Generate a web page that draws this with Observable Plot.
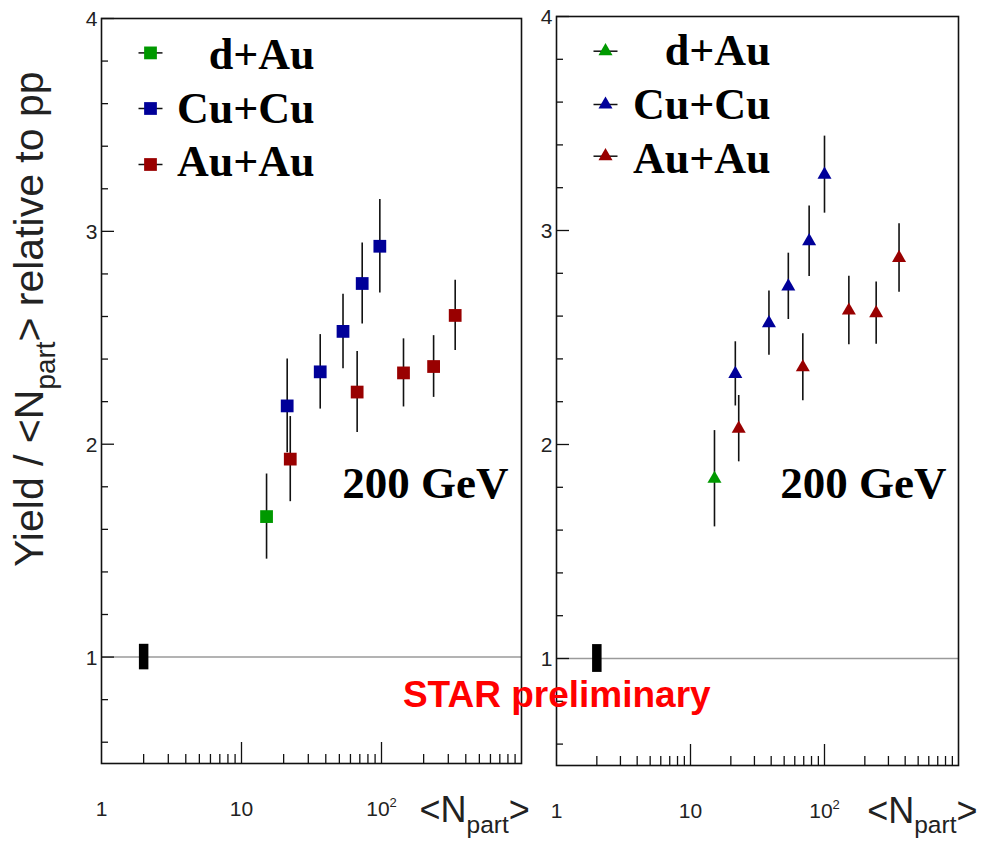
<!DOCTYPE html>
<html>
<head>
<meta charset="utf-8">
<script src="https://cdn.jsdelivr.net/npm/d3@7"></script>
<script src="https://cdn.jsdelivr.net/npm/@observablehq/plot@0.6"></script>
<style>
  html, body { margin: 0; padding: 0; background: #fff; }
  #chart { position: relative; width: 985px; height: 843px; overflow: hidden; background: #fff; }
  #chart svg { position: absolute; top: 0; }
</style>
</head>
<body>
<div id="chart"></div>
<script>
// ---------- axis ticks and labels ----------
const xTickValues = [1, 10, 100];
const xTickLabels = ["1", "10", "10^{2}"];
const xMajorTicks = [10, 100];
const xMinorTicks = [2, 3, 4, 5, 6, 7, 8, 9, 20, 30, 40, 50, 60, 70, 80, 90, 200, 300, 400, 500, 600, 700, 800, 900];
const yTickValues = [1, 2, 3, 4];
const yMinorTicks = [0.6, 0.8, 1.2, 1.4, 1.6, 1.8, 2.2, 2.4, 2.6, 2.8, 3.2, 3.4, 3.6, 3.8];

// ---------- series ----------
const systems = ["d+Au", "Cu+Cu", "Au+Au"];
const systemColors = ["#009900", "#000099", "#990000"];

// left panel (squares)
const leftDAuNpart = [15.1];
const leftDAuRatio = [1.66];
const leftDAuErr = [0.2];
const leftCuNpart = [21.2, 36.5, 53.1, 72.8, 97.3];
const leftCuRatio = [2.18, 2.34, 2.53, 2.755, 2.93];
const leftCuErr = [0.22, 0.175, 0.175, 0.19, 0.22];
const leftAuNpart = [22.3, 67, 143.6, 235.6, 336];
const leftAuRatio = [1.93, 2.245, 2.335, 2.365, 2.605];
const leftAuErr = [0.2, 0.19, 0.16, 0.145, 0.165];
const leftPPNpart = [2];
const leftPPRatio = [1];
const leftPPErr = [0.06];

// right panel (triangles)
const rightDAuNpart = [15.1];
const rightDAuRatio = [1.84];
const rightDAuErr = [0.225];
const rightCuNpart = [21.6, 38.5, 53.7, 76.8, 100];
const rightCuRatio = [2.33, 2.567, 2.739, 2.95, 3.261];
const rightCuErr = [0.15, 0.15, 0.155, 0.165, 0.18];
const rightAuNpart = [22.9, 68.9, 152, 243, 360];
const rightAuRatio = [2.074, 2.361, 2.626, 2.614, 2.872];
const rightAuErr = [0.155, 0.157, 0.16, 0.145, 0.16];
const rightPPNpart = [2];
const rightPPRatio = [1];
const rightPPErr = [0.065];

const energyLabel = "200 GeV";
const xTitle = "<N_{part}>";
const yTitle = "Yield / <N_{part}> relative to pp";
const watermark = "STAR preliminary";

function rows(xs, ys, es) {
  return xs.map((x, i) => ({x, y: ys[i], e: es[i]}));
}

const legendLine = {
  draw(ctx) { ctx.moveTo(-12, 0); ctx.lineTo(12, 0); }
};

const SANS = "'Liberation Sans', Arial, sans-serif";
const SERIF = "'Liberation Serif', 'Times New Roman', serif";

function makePanel(cfg) {
  const marks = [];
  marks.push(Plot.ruleY([1], {stroke: "#9a9a9a", strokeWidth: 1.6}));
  // y ticks (pointing inward)
  marks.push(Plot.axisY(yMinorTicks, {tickSize: 7, dx: 7, fill: "none", label: null, stroke: "#111", strokeWidth: 1.3}));
  marks.push(Plot.axisY(yTickValues, {tickSize: 13, dx: 13, fill: "none", label: null, stroke: "#111", strokeWidth: 1.3}));
  marks.push(Plot.text(yTickValues, {y: (d) => d, text: (d) => String(d), frameAnchor: "left", dx: -4, dy: 1, textAnchor: "end", lineAnchor: "middle", fontSize: 21, fontFamily: SANS, fill: "#222"}));
  // x ticks (pointing up)
  marks.push(Plot.axisX(xMinorTicks, {tickSize: 9, dy: -9, fill: "none", label: null, stroke: "#111", strokeWidth: 1.3}));
  marks.push(Plot.axisX(xMajorTicks, {tickSize: 21, dy: -21, fill: "none", label: null, stroke: "#111", strokeWidth: 1.3}));
  marks.push(Plot.text(xTickValues, {x: (d) => d, text: (d) => xTickLabels[xTickValues.indexOf(d)], frameAnchor: "bottom", dy: 46, textAnchor: "middle", lineAnchor: "middle", fontSize: 21, fontFamily: SANS, fill: "#222"}));
  marks.push(Plot.frame({stroke: "#111", strokeWidth: 1.6}));
  // pp reference box
  marks.push(Plot.ruleX(cfg.pp, {x: "x", y1: (d) => d.y - d.e, y2: (d) => d.y + d.e, stroke: "black", strokeWidth: 9.5}));
  // error bars then markers
  cfg.series.forEach((s) => {
    marks.push(Plot.ruleX(s, {x: "x", y1: (d) => d.y - d.e, y2: (d) => d.y + d.e, stroke: "#111", strokeWidth: 1.6}));
  });
  cfg.series.forEach((s, i) => {
    marks.push(Plot.dot(s, {x: "x", y: "y", symbol: cfg.symbol, r: cfg.r, fill: systemColors[i], stroke: "none"}));
  });
  // legend
  systems.forEach((name, i) => {
    marks.push(Plot.dot([name], {frameAnchor: "top-left", dx: cfg.legMarkX, dy: cfg.legMarkY[i], symbol: legendLine, r: 3, fill: "none", stroke: "#111", strokeWidth: 1.5}));
    marks.push(Plot.dot([name], {frameAnchor: "top-left", dx: cfg.legMarkX, dy: cfg.legMarkY[i], symbol: cfg.symbol, r: cfg.r, fill: systemColors[i], stroke: "none"}));
    marks.push(Plot.text([name], {text: (d) => d, frameAnchor: "top-left", dx: cfg.legTextX, dy: cfg.legTextY[i], textAnchor: "end", lineAnchor: "middle", fontFamily: SERIF, fontWeight: "bold", fontSize: 44, fill: "black"}));
  });
  marks.push(Plot.text([energyLabel], {text: (d) => d, frameAnchor: "top-left", dx: cfg.energyX, dy: cfg.energyY, textAnchor: "end", lineAnchor: "middle", fontFamily: SERIF, fontWeight: "bold", fontSize: 45, fill: "black"}));
  marks.push(Plot.text([xTitle], {text: (d) => d, frameAnchor: "bottom-left", dx: cfg.xTitleX, dy: cfg.xTitleY, textAnchor: "start", lineAnchor: "middle", fontSize: 36, fontFamily: SANS, fill: "#222"}));
  if (cfg.extra) marks.push(...cfg.extra);
  return Plot.plot({
    width: cfg.width,
    height: 843,
    marginLeft: cfg.ml,
    marginRight: cfg.mr,
    marginTop: cfg.mt,
    marginBottom: cfg.mb,
    x: {type: "log", domain: [1, 1000]},
    y: {domain: [0.5, 4]},
    style: {fontFamily: SANS, overflow: "visible", background: "transparent", color: "#111"},
    marks
  });
}

// turn "_{...}" into subscripts and "^{...}" into superscripts
function scriptify(svg) {
  const ns = "http://www.w3.org/2000/svg";
  svg.querySelectorAll("text").forEach((t) => {
    if (t.querySelector("tspan")) return;
    const s = t.textContent;
    const m = s.match(/^(.*?)([_^])\{(.+?)\}(.*)$/);
    if (!m) return;
    const fs = parseFloat(window.getComputedStyle(t).fontSize) || 16;
    const shift = m[2] === "_" ? fs * 0.3 : -fs * 0.42;
    t.textContent = "";
    const a = document.createElementNS(ns, "tspan");
    a.textContent = m[1];
    const b = document.createElementNS(ns, "tspan");
    b.textContent = m[3];
    b.setAttribute("font-size", (fs * (m[2] === "_" ? 0.68 : 0.62)).toFixed(1));
    b.setAttribute("dy", shift.toFixed(1));
    t.appendChild(a); t.appendChild(b);
    if (m[4]) {
      const c = document.createElementNS(ns, "tspan");
      c.textContent = m[4];
      c.setAttribute("dy", (-shift).toFixed(1));
      t.appendChild(c);
    }
  });
}

const leftSvg = makePanel({
  width: 535, ml: 101, mr: 14, mt: 18, mb: 80,
  symbol: "square", r: 7.2,
  pp: rows(leftPPNpart, leftPPRatio, leftPPErr),
  series: [
    rows(leftDAuNpart, leftDAuRatio, leftDAuErr),
    rows(leftCuNpart, leftCuRatio, leftCuErr),
    rows(leftAuNpart, leftAuRatio, leftAuErr)
  ],
  legMarkX: 49, legMarkY: [34.4, 90, 146],
  legTextX: 213, legTextY: [36, 90, 143.4],
  energyX: 407, energyY: 465,
  xTitleX: 318, xTitleY: 47,
  extra: [
    Plot.text([yTitle], {text: (d) => d, frameAnchor: "top-left", dx: -72, dy: 300.7, rotate: -90, textAnchor: "middle", lineAnchor: "middle", fontSize: 41, fontFamily: SANS, fill: "#222"}),
    Plot.text([watermark], {text: (d) => d, frameAnchor: "top-left", dx: 455.3, dy: 676.6, textAnchor: "middle", lineAnchor: "middle", fontSize: 37, fontWeight: "bold", fontFamily: SANS, fill: "#ff0000"})
  ]
});

const rightSvg = makePanel({
  width: 450, ml: 21, mr: 27, mt: 16, mb: 78,
  symbol: "triangle", r: 5.2,
  pp: rows(rightPPNpart, rightPPRatio, rightPPErr),
  series: [
    rows(rightDAuNpart, rightDAuRatio, rightDAuErr),
    rows(rightCuNpart, rightCuRatio, rightCuErr),
    rows(rightAuNpart, rightAuRatio, rightAuErr)
  ],
  legMarkX: 49, legMarkY: [34.7, 88, 139.7],
  legTextX: 214, legTextY: [34.2, 88.2, 142.2],
  energyX: 390, energyY: 467.3,
  xTitleX: 310.7, xTitleY: 45.5
});

const chart = document.getElementById("chart");
rightSvg.style.left = "535px";
rightSvg.style.zIndex = "1";
leftSvg.style.left = "0px";
leftSvg.style.zIndex = "2";
chart.appendChild(rightSvg);
chart.appendChild(leftSvg);
scriptify(leftSvg);
scriptify(rightSvg);
</script>
</body>
</html>
